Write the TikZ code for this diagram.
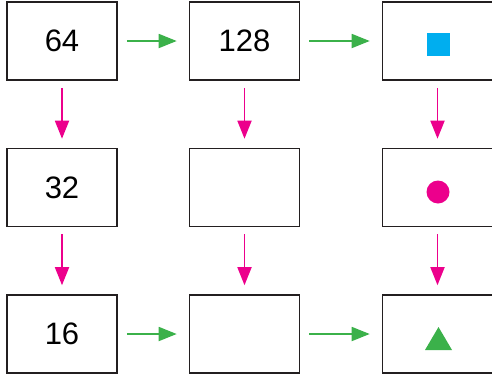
\documentclass[tikz,border=0pt]{standalone}
\usepackage{fontspec}
\setmainfont{Liberation Sans}
\usetikzlibrary{arrows.meta}
\definecolor{boxline}{HTML}{231F20}
\definecolor{grn}{HTML}{3BB14A}
\definecolor{mag}{HTML}{EC008C}
\definecolor{cyn}{HTML}{00AEEF}
\tikzset{
  numbox/.style={draw=boxline, line width=1.6pt, minimum width=110pt, minimum height=78pt, inner sep=0pt, font=\fontsize{31}{31}\selectfont},
  harrow/.style={draw=grn, line width=1.8pt, -{Triangle[length=18pt,width=14pt]}, shorten <=9pt, shorten >=12pt},
  varrow/.style={draw=mag, line width=1.8pt, -{Triangle[length=18pt,width=14pt]}, shorten <=7pt, shorten >=9pt}
}
\begin{document}
\begin{tikzpicture}[x=1pt,y=-1pt]
\useasboundingbox (0,0) rectangle (492,383);
\node[numbox] (a1) at (62,41) {64};
\node[numbox] (a2) at (244.5,41) {128};
\node[numbox] (a3) at (437.5,41) {};
\node[numbox] (b1) at (62,187.5) {32};
\node[numbox] (b2) at (244.5,187.5) {};
\node[numbox] (b3) at (437.5,187.5) {};
\node[numbox] (c1) at (62,334) {16};
\node[numbox] (c2) at (244.5,334) {};
\node[numbox] (c3) at (437.5,334) {};
\node[fill=cyn, minimum size=23pt, inner sep=0pt] (sq) at (438.5,44.5) {};
\node[fill=mag, circle, minimum size=23pt, inner sep=0pt] (ci) at (438,192) {};
\fill[grn] (425,350) -- (452,350) -- (438.5,327) -- cycle;
\draw[harrow] (a1) -- (a2);
\draw[harrow] (a2) -- (a3);
\draw[harrow] (c1) -- (c2);
\draw[harrow] (c2) -- (c3);
\draw[varrow] (a1) -- (b1);
\draw[varrow] (b1) -- (c1);
\draw[varrow] (a2) -- (b2);
\draw[varrow] (b2) -- (c2);
\draw[varrow] (a3) -- (b3);
\draw[varrow] (b3) -- (c3);
\end{tikzpicture}
\end{document}
